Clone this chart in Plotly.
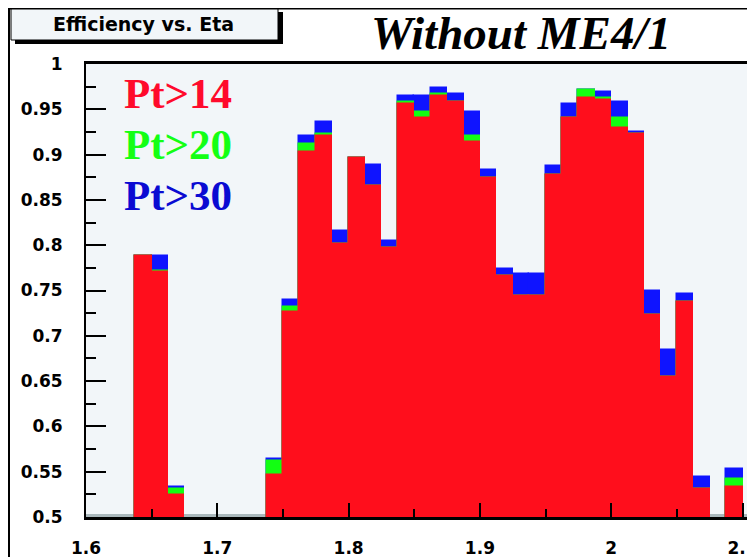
import plotly.graph_objects as go

# ---- data ----
bin_width = 0.0125
bin_centers = [1.64375 + i * 0.0125 for i in range(37)]
eff_pt14 = [0.788, 0.770, 0.524, 0, 0, 0, 0, 0, 0.5465, 0.726, 0.903, 0.920, 0.801, 0.896,
            0.865, 0.7965, 0.956, 0.940, 0.9646, 0.958, 0.914, 0.874, 0.7655, 0.744, 0.744,
            0.878, 0.940, 0.9624, 0.960, 0.929, 0.9226, 0.7235, 0.655, 0.737, 0.531, 0, 0.533]
eff_pt20 = [0.788, 0.771, 0.531, 0, 0, 0, 0, 0, 0.562, 0.732, 0.9115, 0.9226, 0.801, 0.896,
            0.865, 0.7965, 0.958, 0.947, 0.967, 0.958, 0.920, 0.874, 0.7655, 0.744, 0.744,
            0.878, 0.940, 0.971, 0.9624, 0.940, 0.9226, 0.7235, 0.655, 0.737, 0.531, 0, 0.542]
eff_pt30 = [0.788, 0.788, 0.533, 0, 0, 0, 0, 0, 0.564, 0.739, 0.920, 0.936, 0.816, 0.896,
            0.889, 0.805, 0.9646, 0.9646, 0.9735, 0.967, 0.947, 0.883, 0.774, 0.768, 0.768,
            0.887, 0.956, 0.971, 0.969, 0.958, 0.925, 0.750, 0.684, 0.746, 0.544, 0, 0.553]
x_tickvals = [1.6, 1.7, 1.8, 1.9, 2.0, 2.1]
x_ticktext = ["1.6", "1.7", "1.8", "1.9", "2", "2.1"]
y_tickvals = [0.5, 0.55, 0.6, 0.65, 0.7, 0.75, 0.8, 0.85, 0.9, 0.95, 1.0]
y_ticktext = ["0.5", "0.55", "0.6", "0.65", "0.7", "0.75", "0.8", "0.85", "0.9", "0.95", "1"]
series_names = ["Pt>14", "Pt>20", "Pt>30"]
title_text = "Efficiency vs. Eta"
subtitle_text = "Without ME4/1"

RED = "#ff0e1c"
GREEN = "#12ff12"
BLUE = "#0f14ff"

OFF = 8  # page body margin
W, H = 755 - OFF, 557 - OFF
L, R, T, B = 86 - OFF, 0, 64 - OFF, 40
PW, PH = W - L - R, H - T - B


def px(x):
    """page pixel x -> paper coordinate"""
    return (x - OFF - L) / PW


def py(y):
    """page pixel y -> paper coordinate"""
    return (H - B - (y - OFF)) / PH


fig = go.Figure()
for vals, col, name in [(eff_pt30, BLUE, series_names[2]),
                        (eff_pt20, GREEN, series_names[1]),
                        (eff_pt14, RED, series_names[0])]:
    fig.add_trace(go.Bar(x=bin_centers, y=vals, width=bin_width, name=name,
                         marker=dict(color=col, line=dict(color=col, width=1.5)),
                         showlegend=False))

shapes = [
    # grey strip at bottom of frame (under bars)
    dict(type="rect", xref="paper", yref="paper", x0=0, x1=1, y0=0, y1=3 / PH,
         fillcolor="#aab8bc", line=dict(width=0), layer="below"),
    # outer pad frame
    dict(type="line", xref="paper", yref="paper", x0=px(8), x1=px(760), y0=py(8.5), y1=py(8.5),
         line=dict(color="black", width=2)),
    dict(type="line", xref="paper", yref="paper", x0=px(9), x1=px(9), y0=py(8), y1=py(560),
         line=dict(color="black", width=2)),
    # title box shadow
    dict(type="rect", xref="paper", yref="paper", x0=px(15), x1=px(283), y0=py(44), y1=py(12),
         fillcolor="black", line=dict(width=0)),
    # title box
    dict(type="rect", xref="paper", yref="paper", x0=px(11), x1=px(278), y0=py(40), y1=py(9),
         fillcolor="#f2f6f9", line=dict(color="black", width=1)),
]

annotations = [
    dict(text="<b>" + title_text + "</b>", xref="paper", yref="paper", x=px(143), y=py(24),
         xanchor="center", yanchor="middle", showarrow=False,
         font=dict(family="DejaVu Sans", size=19, color="black")),
    dict(text="<b><i>" + subtitle_text + "</i></b>", xref="paper", yref="paper", x=px(521), y=py(33),
         xanchor="center", yanchor="middle", showarrow=False,
         font=dict(family="Liberation Serif", size=47, color="black")),
]
for name, col, yc in [(series_names[0], "#ff0a2c", 93), (series_names[1], "#14ff14", 144),
                      (series_names[2], "#0a0ad2", 195)]:
    annotations.append(dict(text="<b>" + name + "</b>", xref="paper", yref="paper",
                            x=px(122), y=py(yc), xanchor="left", yanchor="middle",
                            showarrow=False,
                            font=dict(family="Liberation Serif", size=43, color=col)))

fig.update_layout(
    width=W, height=H,
    margin=dict(l=L, r=R, t=T, b=B, pad=0, autoexpand=False),
    paper_bgcolor="white",
    plot_bgcolor="#f2f6f9",
    barmode="overlay",
    bargap=0,
    showlegend=False,
    shapes=shapes,
    annotations=annotations,
    xaxis=dict(range=[1.6, 2.1095], tickvals=x_tickvals, ticktext=x_ticktext,
               automargin=False, ticklabeloverflow="allow",
               ticks="inside", ticklen=14, tickwidth=2, tickcolor="black",
               showgrid=False, zeroline=False, showline=True, linecolor="black",
               linewidth=3, mirror=True, ticklabelstandoff=14,
               tickfont=dict(family="DejaVu Sans", size=17, color="black", weight="bold"),
               minor=dict(dtick=0.05, tick0=1.6, ticks="inside", ticklen=8, tickwidth=2,
                          tickcolor="black", showgrid=False)),
    yaxis=dict(range=[0.5, 1.0], tickvals=y_tickvals, ticktext=y_ticktext,
               automargin=False, ticklabeloverflow="allow",
               ticks="inside", ticklen=20, tickwidth=1.5, tickcolor="black",
               showgrid=False, zeroline=False, showline=True, linecolor="black",
               linewidth=2, mirror=False, ticklabelstandoff=18,
               tickfont=dict(family="DejaVu Sans", size=17, color="black", weight="bold"),
               minor=dict(dtick=0.025, tick0=0.5, ticks="inside", ticklen=10, tickwidth=1.5,
                          tickcolor="black", showgrid=False)),
)

fig.write_html("out.html")
